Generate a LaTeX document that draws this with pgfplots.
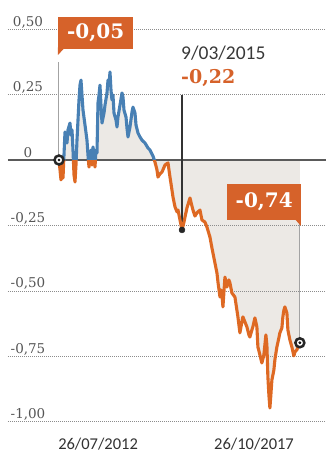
\documentclass[border=0pt]{standalone}
\usepackage{fontspec}
\setmainfont{DejaVu Serif}
\newfontfamily\carlito{Carlito}
\usepackage{pgfplots}
\pgfplotsset{compat=1.18}
\usepackage{pgfplotstable}
\usepgfplotslibrary{fillbetween}
\definecolor{lineor}{RGB}{222,105,35}
\definecolor{boxor}{RGB}{214,98,42}
\definecolor{lineblue}{RGB}{72,128,180}
\definecolor{areagray}{RGB}{236,233,229}
\definecolor{gridgray}{RGB}{140,140,140}
\definecolor{tickgray}{RGB}{85,85,85}
\definecolor{dategray}{RGB}{50,50,50}
\definecolor{zerogray}{RGB}{90,90,90}

\pgfplotstableread{
x y
2011.250 0.000
2011.284 -0.038
2011.317 -0.076
2011.351 -0.019
2011.385 -0.069
2011.418 0.019
2011.452 0.107
2011.486 0.076
2011.519 0.065
2011.553 0.115
2011.620 0.141
2011.654 0.095
2011.688 0.115
2011.721 0.038
2011.755 -0.057
2011.789 -0.084
2011.822 -0.019
2011.856 0.076
2011.890 0.153
2011.923 0.229
2011.957 0.286
2011.991 0.305
2012.024 0.248
2012.058 0.191
2012.125 0.134
2012.192 0.076
2012.226 0.019
2012.260 -0.027
2012.294 0.000
2012.327 0.038
2012.361 -0.019
2012.395 0.050
2012.428 0.019
2012.462 -0.027
2012.496 0.038
2012.529 0.027
2012.563 0.218
2012.597 0.248
2012.630 0.286
2012.664 0.210
2012.698 0.141
2012.731 0.160
2012.765 0.179
2012.799 0.210
2012.866 0.256
2012.900 0.305
2012.933 0.286
2012.967 0.336
2013.001 0.267
2013.034 0.229
2013.068 0.248
2013.102 0.179
2013.169 0.153
2013.203 0.126
2013.236 0.164
2013.304 0.210
2013.371 0.256
2013.405 0.240
2013.438 0.191
2013.506 0.164
2013.539 0.122
2013.573 0.088
2013.640 0.126
2013.708 0.183
2013.741 0.202
2013.809 0.179
2013.843 0.134
2013.910 0.103
2013.977 0.088
2014.044 0.076
2014.145 0.065
2014.246 0.046
2014.314 0.038
2014.415 0.015
2014.482 -0.008
2014.549 -0.038
2014.583 -0.065
2014.650 -0.053
2014.718 -0.046
2014.819 -0.019
2014.920 -0.011
2014.987 -0.065
2015.054 -0.115
2015.088 -0.141
2015.156 -0.179
2015.223 -0.198
2015.256 -0.191
2015.324 -0.229
2015.391 -0.267
2015.458 -0.237
2015.492 -0.218
2015.559 -0.183
2015.660 -0.145
2015.727 -0.176
2015.761 -0.191
2015.828 -0.214
2015.895 -0.202
2015.996 -0.191
2016.063 -0.229
2016.164 -0.237
2016.231 -0.256
2016.332 -0.294
2016.400 -0.336
2016.433 -0.355
2016.501 -0.393
2016.568 -0.431
2016.602 -0.466
2016.669 -0.523
2016.702 -0.496
2016.736 -0.515
2016.770 -0.561
2016.837 -0.447
2016.904 -0.485
2016.971 -0.458
2017.005 -0.469
2017.072 -0.508
2017.173 -0.523
2017.240 -0.573
2017.274 -0.599
2017.341 -0.660
2017.408 -0.618
2017.442 -0.599
2017.509 -0.618
2017.576 -0.637
2017.644 -0.668
2017.677 -0.676
2017.745 -0.649
2017.778 -0.637
2017.846 -0.603
2017.913 -0.637
2017.947 -0.714
2018.014 -0.744
2018.081 -0.775
2018.148 -0.744
2018.182 -0.706
2018.216 -0.668
2018.250 -0.706
2018.283 -0.828
2018.317 -0.897
2018.351 -0.947
2018.384 -0.897
2018.418 -0.840
2018.485 -0.802
2018.519 -0.763
2018.586 -0.714
2018.654 -0.679
2018.687 -0.660
2018.755 -0.641
2018.788 -0.599
2018.822 -0.573
2018.856 -0.561
2018.923 -0.584
2018.957 -0.649
2019.024 -0.687
2019.091 -0.714
2019.158 -0.748
2019.192 -0.733
2019.259 -0.725
2019.293 -0.714
2019.360 -0.698
}\data

\begin{document}
\begin{tikzpicture}
\begin{axis}[
  at={(0,0)}, anchor=south west,
  set layers,
  scale only axis, width=318pt, height=430pt,
  xmin=2009.533, xmax=2020.24, ymin=-1.031, ymax=0.611,
  axis line style={draw=none}, tick style={draw=none},
  ytick={-1,-0.75,-0.5,-0.25,0,0.25,0.5},
  yticklabels={{-1,00},{-0,75},{-0,50},{-0,25},{0},{0,25},{0,50}},
  yticklabel style={anchor=base, xshift=20pt, yshift=3pt,
    font=\fontsize{13.5}{14}\selectfont, text=tickgray},
  ymajorgrids,
  major grid style={gridgray, line width=0.8pt, dash pattern=on 1pt off 1pt},
  xtick={2012.566,2017.816},
  xticklabels={26/07/2012,26/10/2017},
  xticklabel style={font=\carlito\fontsize{16.5}{18}\selectfont, text=dategray, yshift=-5pt},
  clip=false,
]
\addplot[draw=none, name path=curve, forget plot] table[x=x,y=y]{\data};
\addplot[draw=none, name path=zero, forget plot] coordinates {(2011.25,0) (2019.36,0)};
\addplot[fill=areagray, draw=none] fill between[of=curve and zero, on layer=axis background];

\draw[zerogray, line width=1.4pt] (axis cs:2009.533,0) -- (axis cs:2020.24,0);

% leader lines
\draw[gridgray!80, line width=1pt] (axis cs:2011.25,0) -- (axis cs:2011.25,0.374);
\draw[black!80, line width=1.1pt] (axis cs:2015.391,-0.267) -- (axis cs:2015.391,0.248);
\draw[gridgray!80, line width=1pt] (axis cs:2019.36,-0.229) -- (axis cs:2019.36,-0.698);

\begin{scope}
\clip (axis cs:2009.5,0) rectangle (axis cs:2020.3,0.7);
\addplot[lineblue, line width=3.1pt, line join=round, no marks] table[x=x,y=y]{\data};
\end{scope}
\begin{scope}
\clip (axis cs:2009.5,-1.1) rectangle (axis cs:2020.3,0);
\addplot[lineor, line width=3.1pt, line join=round, no marks] table[x=x,y=y]{\data};
\end{scope}

% marker dot
\addplot[only marks, mark=*, mark size=3pt, mark options={fill=black!85, draw=black!85}] coordinates {(2015.391,-0.267)};
% ring markers
\addplot[only marks, mark=*, mark size=4.5pt, mark options={fill=white, draw=black!85, line width=2.5pt}] coordinates {(2011.25,0) (2019.36,-0.698)};
\addplot[only marks, mark=*, mark size=1.2pt, mark options={fill=black!85, draw=none}] coordinates {(2011.25,0) (2019.36,-0.698)};

% label boxes
\fill[boxor] (axis cs:2011.216,0.430) -- (axis cs:2011.452,0.430) -- (axis cs:2011.216,0.401) -- cycle;
\node[fill=boxor, text=white, anchor=south west, inner sep=0pt, minimum width=75pt, minimum height=32pt,
  font=\bfseries\fontsize{20}{22}\selectfont] at (axis cs:2011.216,0.424) {-0,05};

\fill[boxor] (axis cs:2019.163,-0.222) -- (axis cs:2019.398,-0.222) -- (axis cs:2019.398,-0.252) -- cycle;
\node[fill=boxor, text=white, anchor=south west, inner sep=0pt, minimum width=74pt, minimum height=36pt,
  font=\bfseries\fontsize{20}{22}\selectfont] at (axis cs:2016.907,-0.229) {-0,74};

\node[anchor=base west, inner sep=0pt, text=black!78, font=\carlito\fontsize{19.5}{21}\selectfont]
  at (axis cs:2015.358,0.382) {9/03/2015};
\node[anchor=base west, inner sep=0pt, text=boxor, font=\bfseries\fontsize{19}{21}\selectfont]
  at (axis cs:2015.358,0.294) {-0,22};
\end{axis}
\pgfresetboundingbox
\useasboundingbox (-8pt,-25pt) rectangle (318pt,430pt);
\end{tikzpicture}
\end{document}
